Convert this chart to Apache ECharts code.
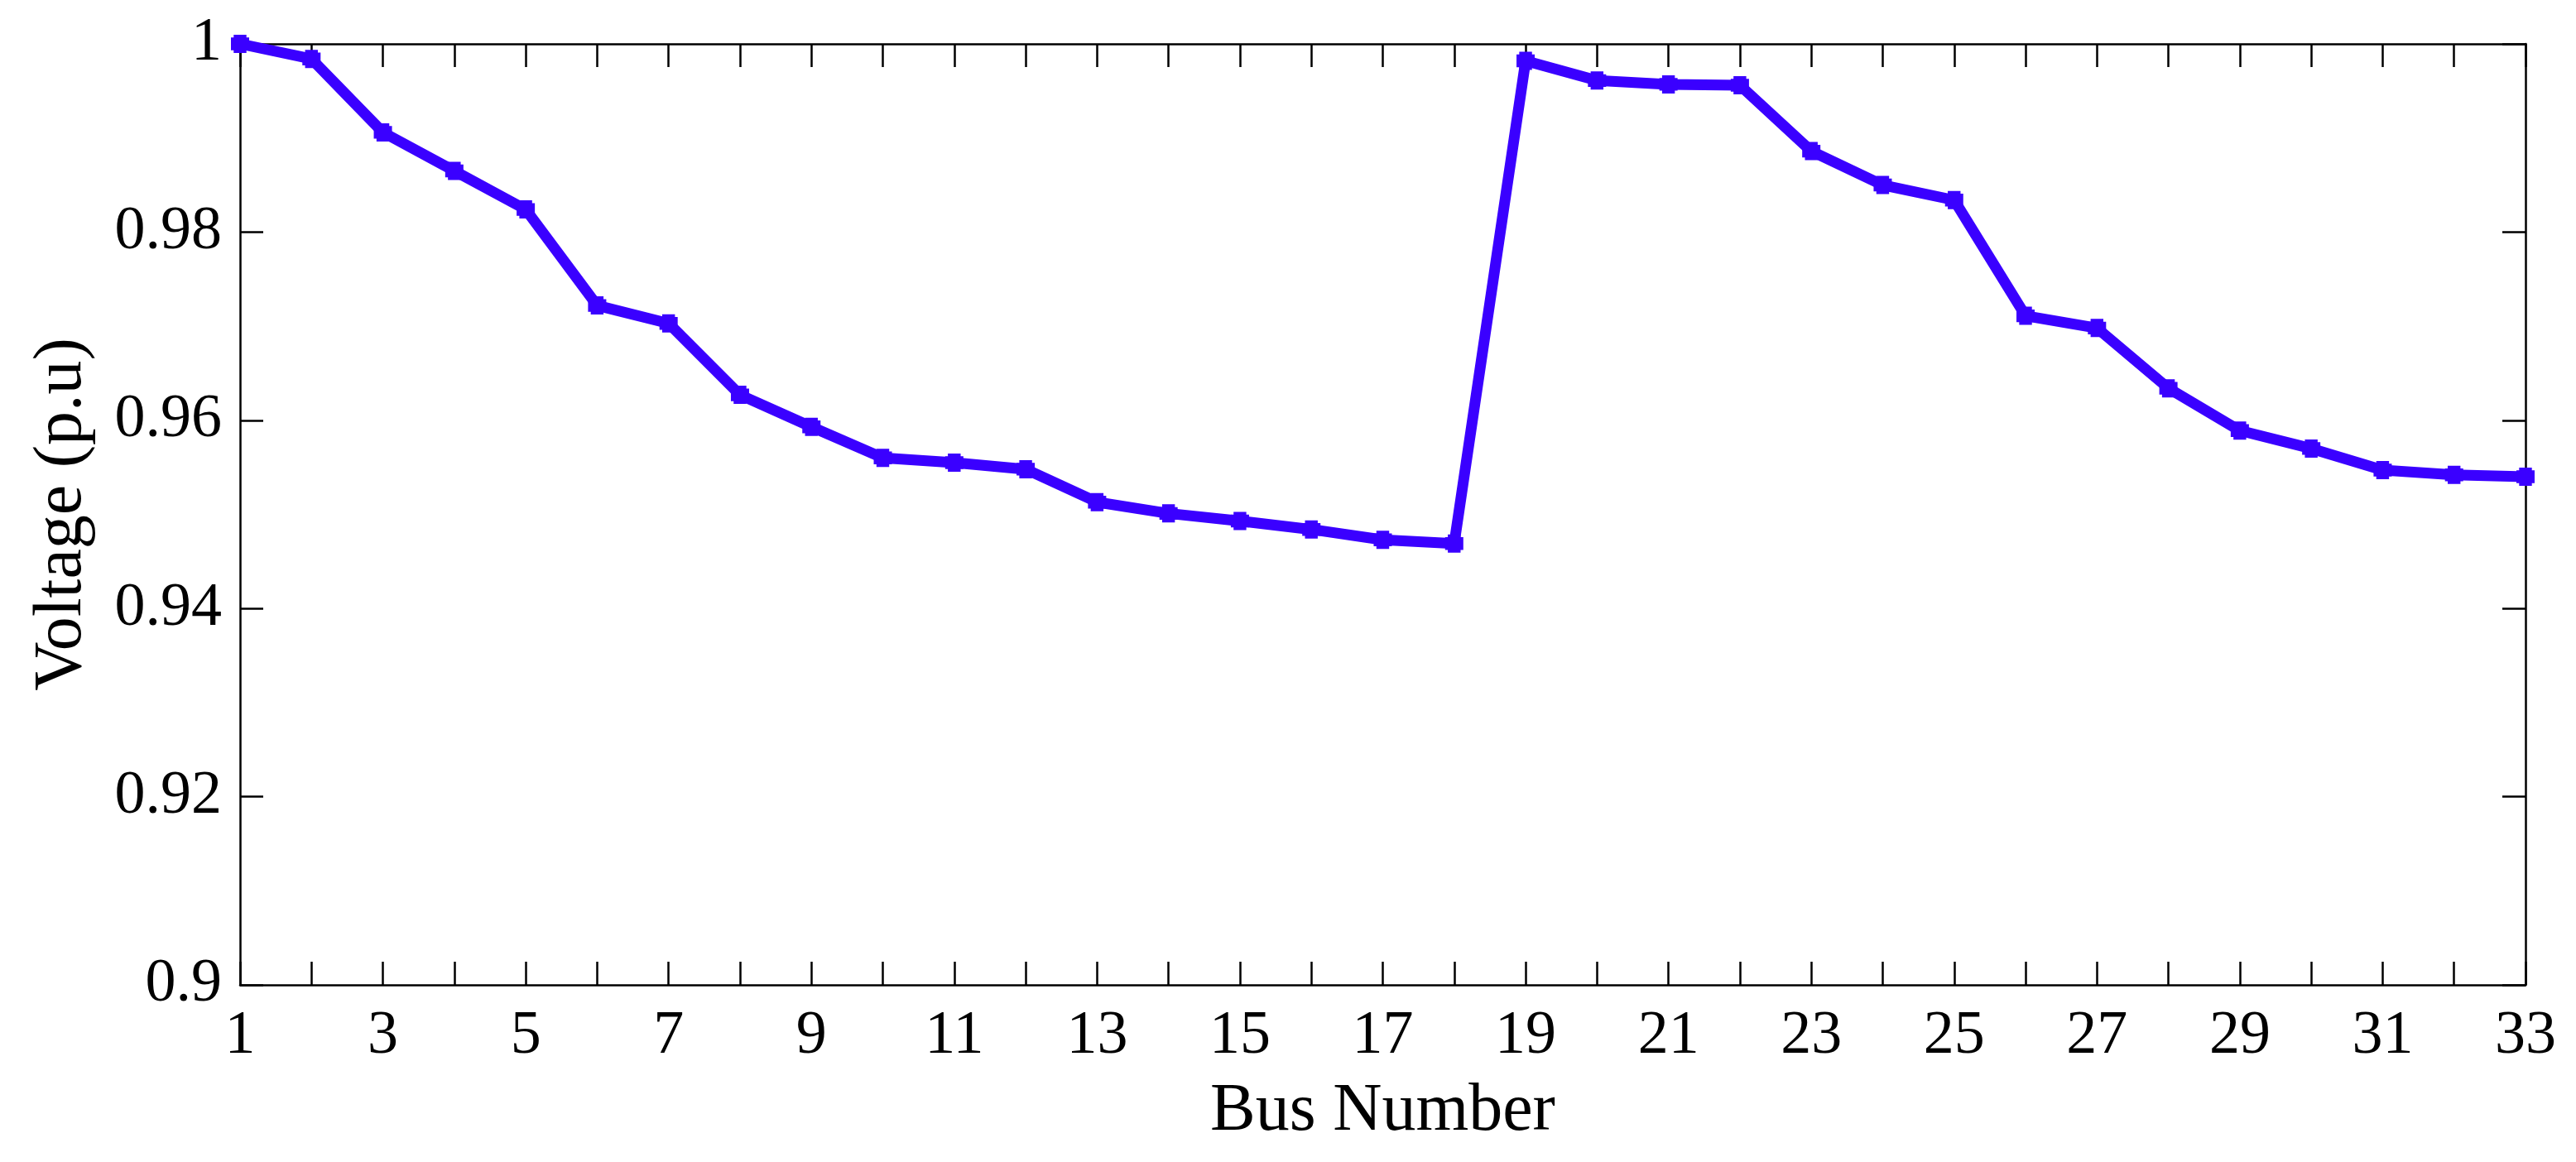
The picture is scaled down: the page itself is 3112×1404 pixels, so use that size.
<!DOCTYPE html>
<html>
<head>
<meta charset="utf-8">
<script src="https://cdn.jsdelivr.net/npm/echarts@6/dist/echarts.min.js"></script>
<style>
html,body{margin:0;padding:0;background:#fff;}
#chart{width:3112px;height:1404px;}
</style>
</head>
<body>
<div id="chart"></div>
<script>
const busNumbers = [1,2,3,4,5,6,7,8,9,10,11,12,13,14,15,16,17,18,19,20,21,22,23,24,25,26,27,28,29,30,31,32,33];
const voltages = [1.0000,0.9984,0.9906,0.9865,0.9824,0.9722,0.9703,0.9627,0.9593,0.9560,0.9555,0.9548,0.9513,0.9501,0.9493,0.9484,0.9473,0.9469,
                  0.9982,0.9961,0.9957,0.9956,0.9886,0.9850,0.9834,0.9711,0.9698,0.9634,0.9589,0.9570,0.9547,0.9542,0.9540];
const xTitle = 'Bus Number';
const yTitle = 'Voltage (p.u)';

const FONT = "'Liberation Serif','Times New Roman',serif";
const chart = echarts.init(document.getElementById('chart'));
const seriesData = busNumbers.map((b, i) => [b, voltages[i]]);
const lineCol = '#000';
const tickCommon = { show: true, inside: true, length: 28, lineStyle: { color: lineCol, width: 2.5 } };
const axisLineCommon = { show: true, onZero: false, lineStyle: { color: lineCol, width: 2.5 } };

chart.setOption({
  backgroundColor: '#fff',
  animation: false,
  grid: { left: 290, right: 61, top: 53, bottom: 214, containLabel: false },
  xAxis: [
    {
      type: 'value', min: 1, max: 33, interval: 1, position: 'bottom',
      name: xTitle, nameLocation: 'middle', nameGap: 112,
      nameTextStyle: { fontFamily: FONT, fontSize: 82, color: '#000' },
      axisLine: axisLineCommon, axisTick: tickCommon, splitLine: { show: false },
      axisLabel: {
        fontFamily: FONT, fontSize: 74, color: '#000', margin: 26,
        formatter: v => (Math.round(v) % 2 === 1 ? String(Math.round(v)) : '')
      }
    },
    {
      type: 'value', min: 1, max: 33, interval: 1, position: 'top',
      axisLine: axisLineCommon, axisTick: tickCommon, splitLine: { show: false },
      axisLabel: { show: false }
    }
  ],
  yAxis: [
    {
      type: 'value', min: 0.9, max: 1, interval: 0.02, position: 'left',
      name: yTitle, nameLocation: 'middle', nameGap: 174, nameRotate: 90,
      nameTextStyle: { fontFamily: FONT, fontSize: 82, color: '#000' },
      axisLine: axisLineCommon, axisTick: tickCommon, splitLine: { show: false },
      axisLabel: {
        fontFamily: FONT, fontSize: 74, color: '#000', margin: 22,
        formatter: v => String(parseFloat(v.toFixed(4)))
      }
    },
    {
      type: 'value', min: 0.9, max: 1, interval: 0.02, position: 'right',
      axisLine: axisLineCommon, axisTick: tickCommon, splitLine: { show: false },
      axisLabel: { show: false }
    }
  ],
  series: [{
    type: 'line',
    data: seriesData,
    xAxisIndex: 0, yAxisIndex: 0,
    clip: false,
    lineStyle: { color: '#3a00ff', width: 13 },
    itemStyle: { color: '#3a00ff', borderWidth: 0 },
    symbol: 'path://M3,0 H17 V3 H20 V17 H17 V20 H3 V17 H0 V3 H3 Z',
    symbolSize: 22,
    showAllSymbol: true,
    z: 5
  }]
});
</script>
</body>
</html>
